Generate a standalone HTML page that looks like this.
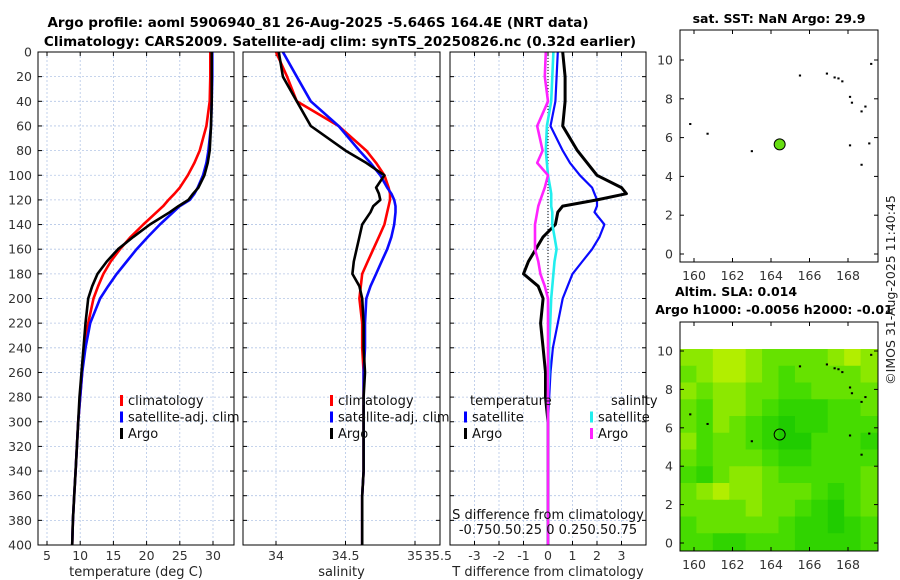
<!DOCTYPE html>
<html><head><meta charset="utf-8"><style>
html,body{margin:0;padding:0;background:#fff;}
svg{display:block;font-family:"DejaVu Sans","Liberation Sans",sans-serif;}
</style></head><body>
<svg id="fig" width="900" height="580" viewBox="0 0 900 580" xmlns="http://www.w3.org/2000/svg">
<text x="318" y="27" font-size="13.5" font-weight="bold" text-anchor="middle">Argo profile: aoml 5906940_81 26-Aug-2025 -5.646S 164.4E (NRT data)</text>
<text x="340" y="46" font-size="13.5" font-weight="bold" text-anchor="middle">Climatology: CARS2009. Satellite-adj clim: synTS_20250826.nc (0.32d earlier)</text>
<text x="779" y="23" font-size="12.5" font-weight="bold" text-anchor="middle">sat. SST: NaN Argo: 29.9</text>
<text x="736" y="296" font-size="12.5" font-weight="bold" text-anchor="middle">Altim. SLA: 0.014</text>
<text x="774" y="314" font-size="12.5" font-weight="bold" text-anchor="middle">Argo h1000: -0.0056 h2000: -0.01</text>
<text transform="translate(895,290) rotate(-90)" font-size="12.5" text-anchor="middle" fill="#222">©IMOS 31-Aug-2025 11:40:45</text>
<g id="layer"></g>
</svg>
<script>
// ---- data ----
const depths = [0,20,40,60,80,90,100,110,115,120,125,130,140,150,160,170,180,190,200,220,240,260,280,300,320,340,360,380,400];
const tempArgo = [29.8,29.8,29.8,29.7,29.5,29.2,28.7,27.8,27.0,26.3,24.8,23.5,20.5,18.0,15.7,14.0,12.6,11.8,11.2,10.8,10.5,10.2,9.9,9.7,9.5,9.3,9.1,8.9,8.8];
const tempClim = [29.6,29.6,29.5,29.0,28.0,27.2,26.2,25.0,24.2,23.3,22.5,21.5,19.5,17.6,16.0,14.6,13.5,12.7,12.0,11.2,10.6,10.3,10.0,9.7,9.5,9.3,9.1,8.9,8.8];
const tempSat = [29.9,29.9,29.8,29.7,29.3,29.0,28.5,27.7,27.2,26.5,25.0,24.0,22.0,20.2,18.5,17.0,15.5,14.2,13.0,11.5,10.8,10.3,10.0,9.7,9.5,9.3,9.1,8.9,8.8];
const salArgo = [34.02,34.05,34.15,34.25,34.5,34.65,34.78,34.72,34.74,34.75,34.7,34.68,34.62,34.6,34.58,34.56,34.55,34.6,34.62,34.63,34.63,34.64,34.63,34.63,34.63,34.63,34.62,34.62,34.62];
const salClim = [34.0,34.08,34.15,34.45,34.65,34.72,34.78,34.81,34.82,34.82,34.81,34.8,34.78,34.74,34.7,34.66,34.62,34.61,34.6,34.62,34.62,34.63,34.63,34.63,34.63,34.63,34.62,34.62,34.62];
const salSat = [34.05,34.15,34.25,34.45,34.6,34.68,34.75,34.8,34.83,34.85,34.86,34.86,34.85,34.83,34.8,34.76,34.72,34.68,34.65,34.64,34.64,34.63,34.63,34.63,34.63,34.63,34.62,34.62,34.62];
const tdiffArgo = [0.6,0.7,0.7,0.6,1.2,1.6,2.0,3.0,3.2,2.0,0.6,0.4,0.3,-0.2,-0.5,-0.8,-1.0,-0.4,-0.2,-0.3,-0.2,-0.1,-0.1,0,0,0,0,0,0];
const tdiffSat = [0.4,0.35,0.3,0.1,0.6,0.9,1.3,1.8,1.9,2.0,2.0,1.9,2.3,2.1,1.8,1.4,1.0,0.8,0.6,0.4,0.2,0.1,0.05,0,0,0,0,0,0];
const sdiffSat = [0.05,0.04,0.03,-0.01,-0.02,-0.01,0.0,0.02,0.03,0.03,0.03,0.04,0.04,0.06,0.08,0.06,0.05,0.04,0.03,0.02,0.01,0.01,0,0,0,0,0,0,0];
const sdiffArgo = [-0.02,-0.03,0.0,-0.1,-0.05,-0.1,0.0,-0.03,-0.05,-0.07,-0.09,-0.1,-0.12,-0.12,-0.12,-0.09,-0.07,-0.03,0.0,0.0,0.0,0.0,0,0,0,0,0,0,0];
const depthTicks = [0,20,40,60,80,100,120,140,160,180,200,220,240,260,280,300,320,340,360,380,400];
const tempTicks = [5,10,15,20,25,30];
const salTicks = [34,34.5,35];
const tdTicks = [-3,-2,-1,0,1,2,3];
const lonTicks = [160,162,164,166,168];
const latTicks = [0,2,4,6,8,10];
const landLon = [159.8,160.7,163.0,165.5,166.9,167.3,167.5,167.7,168.1,168.2,168.7,168.9,168.1,169.1,168.7,169.2];
const landLat = [6.7,6.2,5.3,9.2,9.3,9.1,9.05,8.9,8.1,7.8,7.35,7.6,5.6,5.7,4.6,9.8];
const floatLon = [164.45];
const floatLat = [5.65];
const slaGrid = [
[1,1,0,0,1,2,2,2,2,1,0,1],
[2,1,0,0,1,2,3,2,2,2,2,1],
[1,2,1,1,2,2,3,3,2,2,2,2],
[2,3,1,1,2,3,4,4,4,3,3,2],
[2,3,1,2,3,4,5,4,4,3,3,3],
[1,3,2,2,3,4,5,5,3,3,3,4],
[2,3,2,2,2,3,4,4,3,3,3,3],
[3,4,2,1,1,2,3,3,3,3,3,2],
[2,1,0,1,1,2,2,2,3,4,3,2],
[2,2,2,2,1,2,2,3,4,5,3,2],
[3,2,2,2,2,2,3,4,4,5,4,3],
[3,3,4,4,3,3,3,4,4,4,4,3]];
const slaColors = ["#b2ee00","#8ce800","#66e200","#46dc00","#30d400","#20cc00"];

// ---- helpers ----
const NS="http://www.w3.org/2000/svg";
const layer=document.getElementById('layer');
function el(tag,attrs,parent){const e=document.createElementNS(NS,tag);for(const k in attrs)e.setAttribute(k,attrs[k]);(parent||layer).appendChild(e);return e;}
function txt(x,y,s,size,anchor,parent){const t=el('text',{x:x,y:y,'font-size':size,'text-anchor':anchor||'middle',fill:'#333'},parent);t.textContent=s;return t;}
const Y0=52,Y1=545;
function yD(d){return Y0+(d/400)*(Y1-Y0);}
function lin(d0,d1,r0,r1){return v=>r0+(v-d0)/(d1-d0)*(r1-r0);}

function panel(name,x0,x1,xs,ticks,tickLabels,xlabel,showY){
  const g=el('g',{});
  
  
  depthTicks.forEach(d=>{el('line',{x1:x0,x2:x1,y1:yD(d),y2:yD(d),stroke:'#b4c6e6','stroke-width':0.8,'stroke-dasharray':'2,2'},g);
    el('line',{x1:x0,x2:x0+4,y1:yD(d),y2:yD(d),stroke:'#000'},g);el('line',{x1:x1-4,x2:x1,y1:yD(d),y2:yD(d),stroke:'#000'},g);
    if(showY){const t=txt(x0-6,yD(d)+4.5,String(d),12.5,'end',g);}});
  ticks.forEach((v,i)=>{const x=xs(v);el('line',{x1:x,x2:x,y1:Y0,y2:Y1,stroke:'#b4c6e6','stroke-width':0.8,'stroke-dasharray':'2,2'},g);
    el('line',{x1:x,x2:x,y1:Y1-4,y2:Y1,stroke:'#000'},g);el('line',{x1:x,x2:x,y1:Y0,y2:Y0+4,stroke:'#000'},g);
    const t=txt(x,Y1+15,tickLabels[i],12.5,'middle',g);});
  const xl=txt((x0+x1)/2,Y1+31,xlabel,13,'middle',g);xl.setAttribute('fill','#222');
  
  return g;
}
function line(g,xs,vals,color,name,w){
  const pts=vals.map((v,i)=>xs(v).toFixed(1)+','+yD(depths[i]).toFixed(1)).join(' ');
  const p=el('polyline',{points:pts,fill:'none',stroke:color,'stroke-width':w||2.6,'stroke-linejoin':'round'},g);
  
  
}
function frame(g,x0,x1){el('rect',{x:x0,y:Y0,width:x1-x0,height:Y1-Y0,fill:'none',stroke:'#000','stroke-width':1},g);}
function legend(g,x,y,items){items.forEach((it,i)=>{
  el('rect',{x:x,y:y+i*16.5-10,width:3,height:11,fill:it[1]},g);
  const t=txt(x+8,y+i*16.5,it[0],13,'start',g);t.setAttribute('fill','#111');
  });}

// panel 1 temperature
const xT=lin(5,30,47,213);
const g1=panel('temperature-panel',38,234,xT,tempTicks,tempTicks.map(String),'temperature (deg C)',true);
line(g1,xT,tempClim,'#f00','temp-climatology-line');
line(g1,xT,tempSat,'#0a0aff','temp-satellite-line');
line(g1,xT,tempArgo,'#000','temp-argo-line');
frame(g1,38,234);
legend(g1,120,405,[['climatology','#f00'],['satellite-adj. clim','#00f'],['Argo','#000']]);

// panel 2 salinity
const xS=lin(34,35,276,415);
const g2=panel('salinity-panel',243,440,xS,salTicks,['34','34.5','35'],'salinity',false);
line(g2,xS,salClim,'#f00','sal-climatology-line');
line(g2,xS,salSat,'#0a0aff','sal-satellite-line');
line(g2,xS,salArgo,'#000','sal-argo-line');
frame(g2,243,440);
legend(g2,330,405,[['climatology','#f00'],['satellite-adj. clim','#00f'],['Argo','#000']]);
txt(438,Y1+15,'35.5',12.5,'middle',g2);

// panel 3 differences
const xTD=lin(-4,4,450,646);
const xSD=lin(0,0.25,548,575);
const g3=panel('difference-panel',450,646,xTD,tdTicks,tdTicks.map(String),'T difference from climatology',false);
el('line',{x1:548,x2:548,y1:Y0,y2:Y1,stroke:'#000','stroke-width':1,'stroke-dasharray':'1,2'},g3);
line(g3,xTD,tdiffSat,'#0a0aff','tdiff-satellite-line',2.2);
line(g3,xTD,tdiffArgo,'#000','tdiff-argo-line',3);
line(g3,xSD,sdiffSat,'#22eeee','sdiff-satellite-line',2.6);
line(g3,xSD,sdiffArgo,'#ff22ff','sdiff-argo-line',2.6);
frame(g3,450,646);
const sdT=txt(548,519,'S difference from climatology',13,'middle',g3);sdT.setAttribute('fill','#111');

const sdL=txt(548,534,'-0.750.50.25 0  0.250.50.75',13,'middle',g3);sdL.setAttribute('fill','#111');

const th=txt(470,405,'temperature',13,'start',g3);th.setAttribute('fill','#111');
const sh=txt(611,405,'salinity',13,'start',g3);sh.setAttribute('fill','#111');
legend(g3,464,421.5,[['satellite','#00f'],['Argo','#000']]);
legend(g3,590,421.5,[['satellite','#22eeee'],['Argo','#ff22ff']]);

// maps
function mapAxes(name){
  const g=el('g',{});
  
  
  return g;
}
const lonX=lin(160,168,694,848);
// SST map
const yA=lin(0,10,254,60);
const g4=mapAxes('sst-map');
el('rect',{x:680,y:30,width:198,height:232,fill:'#fff'},g4);
landLon.forEach((lo,i)=>{const d=el('rect',{x:lonX(lo)-1,y:yA(landLat[i])-1,width:2.2,height:2,fill:'#000'},g4);
  });
floatLon.forEach((lo,i)=>{const c=el('circle',{cx:lonX(lo),cy:yA(floatLat[i]),r:5.5,fill:'#66dd11',stroke:'#000','stroke-width':1},g4);
  });
el('rect',{x:680,y:30,width:198,height:232,fill:'none',stroke:'#000'},g4);
lonTicks.forEach(v=>{const x=lonX(v);el('line',{x1:x,x2:x,y1:262,y2:258,stroke:'#000'},g4);el('line',{x1:x,x2:x,y1:30,y2:34,stroke:'#000'},g4);txt(x,280,String(v),12.5,'middle',g4);});
latTicks.forEach(v=>{const y=yA(v);el('line',{x1:680,x2:684,y1:y,y2:y,stroke:'#000'},g4);el('line',{x1:874,x2:878,y1:y,y2:y,stroke:'#000'},g4);txt(673,y+4.5,String(v),12.5,'end',g4);});

// SLA map
const yB=lin(0,10,543,351);
const g5=mapAxes('sla-map');
el('rect',{x:680,y:322,width:198,height:229,fill:'#fff'},g5);
const cw=197/12,ch=201/12;
slaGrid.forEach((row,r)=>row.forEach((v,c)=>{const cell=el('rect',{x:(680+c*cw).toFixed(2),y:(349+r*ch).toFixed(2),width:(cw+0.6).toFixed(2),height:(ch+0.6).toFixed(2),fill:slaColors[v]},g5);
  }));
landLon.forEach((lo,i)=>{el('rect',{x:lonX(lo)-1,y:yB(landLat[i])-1,width:2.2,height:2,fill:'#000'},g5);});
floatLon.forEach((lo,i)=>{const c=el('circle',{cx:lonX(lo),cy:yB(floatLat[i]),r:5.5,fill:'none',stroke:'#000','stroke-width':1},g5);
  });
el('rect',{x:680,y:322,width:198,height:229,fill:'none',stroke:'#000'},g5);
lonTicks.forEach(v=>{const x=lonX(v);el('line',{x1:x,x2:x,y1:551,y2:547,stroke:'#000'},g5);el('line',{x1:x,x2:x,y1:322,y2:326,stroke:'#000'},g5);txt(x,569,String(v),12.5,'middle',g5);});
latTicks.forEach(v=>{const y=yB(v);el('line',{x1:680,x2:684,y1:y,y2:y,stroke:'#000'},g5);el('line',{x1:874,x2:878,y1:y,y2:y,stroke:'#000'},g5);txt(673,y+4.5,String(v),12.5,'end',g5);});
</script>
</body></html>
